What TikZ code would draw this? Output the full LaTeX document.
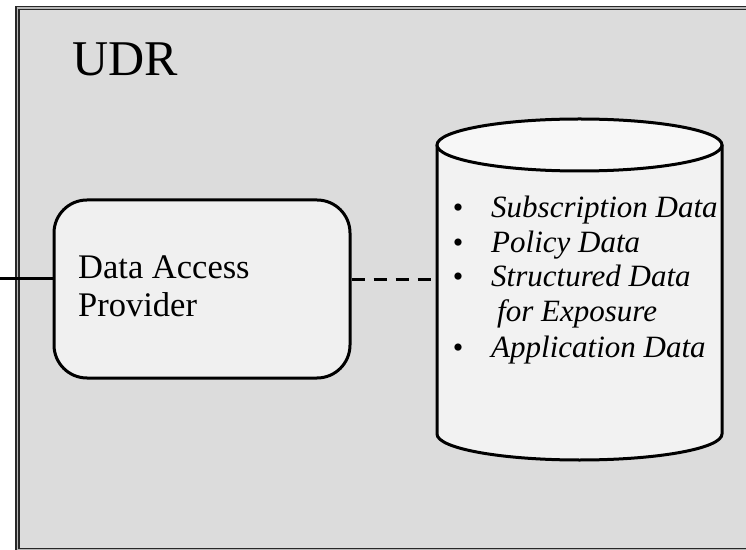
\documentclass[tikz,border=0pt]{standalone}
\usepackage{fontspec}
\setmainfont{Liberation Serif}
\definecolor{udrfill}{RGB}{220,220,220}
\definecolor{udrline}{RGB}{40,40,40}
\definecolor{boxfill}{RGB}{240,240,240}
\definecolor{dbbody}{RGB}{242,242,242}
\definecolor{dbcap}{RGB}{247,247,247}
\tikzset{
  udrframe/.style={draw=udrline, line width=1.6pt, double=udrfill!60!gray, double distance=1.6pt, fill=udrfill},
  procbox/.style={draw=black, line width=3pt, fill=boxfill, rounded corners=33pt,
    minimum width=296pt, minimum height=178pt, inner sep=0pt},
  dbline/.style={line width=3pt},
  link/.style={draw=black, line width=3pt},
  dashlink/.style={draw=black, line width=3pt, dash pattern=on 13pt off 9pt},
  itemtxt/.style={anchor=base west, inner sep=0pt, font=\fontsize{31}{35}\selectfont\itshape},
  bullet/.style={anchor=base, inner sep=0pt, font=\fontsize{30}{32}\selectfont},
}
\begin{document}
\begin{tikzpicture}[x=1pt,y=1pt]
\useasboundingbox (0,0) rectangle (746,549);
\begin{scope}
\clip (0,0) rectangle (746,549);
% outer UDR frame, running past the right and bottom edges
\path[udrframe] (17.5,541) rectangle (760,-1.2);
\end{scope}
\node[anchor=base west, inner sep=0pt, font=\fontsize{50}{56}\selectfont] (udr) at (72,473) {UDR};

% data access provider
\node[procbox] (dap) at (202,260) {};
\node[anchor=base west, inner sep=0pt, font=\fontsize{34.5}{38}\selectfont] (daplabel) at (78,270) {Data Access};
\node[anchor=base west, inner sep=0pt, font=\fontsize{34.5}{38}\selectfont] (daplabel2) at (78,232) {Provider};

% database cylinder
\fill[dbbody] (437,404) -- (437,115) arc[start angle=180, end angle=360, x radius=142.5, y radius=26] -- (722,404) -- cycle;
\draw[dbline] (437,404) -- (437,115) arc[start angle=180, end angle=360, x radius=142.5, y radius=26] -- (722,404);
\draw[dbline, fill=dbcap] (579.5,404) ellipse[x radius=142.5, y radius=26];
\node[inner sep=0pt, minimum width=285pt, minimum height=289pt] (db) at (579.5,259.5) {};

% stored data items
\node[bullet] (b1) at (458,331) {•};
\node[itemtxt] (i1) at (491,331) {Subscription Data};
\node[bullet] (b2) at (458,296) {•};
\node[itemtxt] (i2) at (491,296) {Policy Data};
\node[bullet] (b3) at (458,262) {•};
\node[itemtxt] (i3) at (491,262) {Structured Data};
\node[itemtxt] (i3b) at (497,227) {for Exposure};
\node[bullet] (b4) at (458,191) {•};
\node[itemtxt] (i4) at (491,191) {Application Data};

% connectors
\coordinate (ext) at (0,270);
\coordinate (mid) at (0,269);
\draw[link] (ext) -- (ext -| dap.west);
\draw[dashlink] (mid -| dap.east) -- (mid -| db.west);
\end{tikzpicture}
\end{document}
